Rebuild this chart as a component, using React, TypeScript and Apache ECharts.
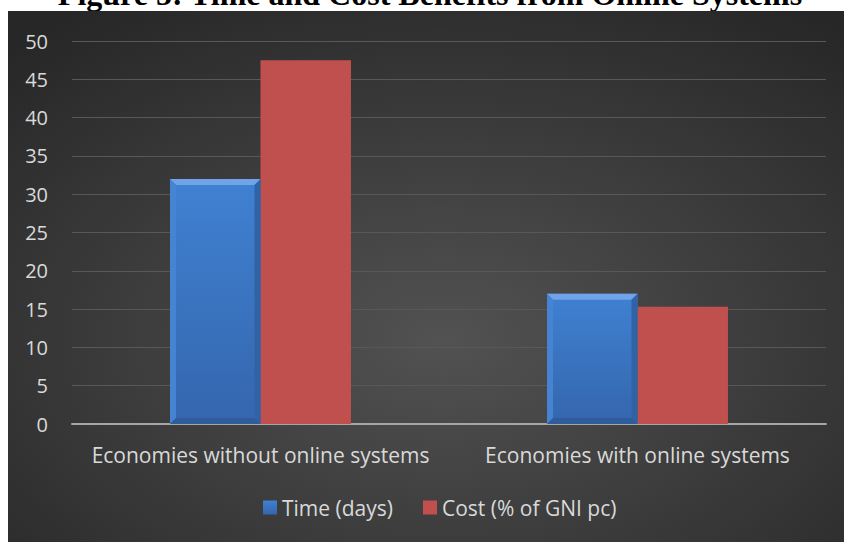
import React, { useEffect, useRef } from "react";
import * as echarts from "echarts";

const titleText = "Figure 5: Time and Cost Benefits from Online Systems";
const categories = ["Economies without online systems", "Economies with online systems"];
const timeDays = [32, 17];
const costPct = [47.5, 15.3];
const seriesNames = ["Time (days)", "Cost (% of GNI pc)"];
const yTicks = { min: 0, max: 50, interval: 5 };

const FONT = "'Open Sans', 'Noto Sans', sans-serif";

export default function App() {
  const ref = useRef<HTMLDivElement>(null);
  useEffect(() => {
    if (!ref.current) return;
    const chart = echarts.init(ref.current, undefined, { renderer: "svg" });
    const bevel = 6;
    chart.setOption({
      animation: false,
      graphic: [
        {
          type: "text",
          x: 430,
          y: -22,
          z: -20,
          style: {
            text: titleText,
            textAlign: "center",
            textVerticalAlign: "top",
            font: "bold 32px 'Liberation Serif', 'Times New Roman', serif",
            fill: "#000",
          },
        },
        {
          type: "rect",
          shape: { x: 8, y: 11, width: 836, height: 531 },
          z: -10,
          silent: true,
          style: {
            fill: new echarts.graphic.RadialGradient(0.52, 0.62, 0.75, [
              { offset: 0, color: "#525252" },
              { offset: 1, color: "#272727" },
            ]),
          },
        },
      ],
      grid: { left: 72, right: 18, top: 41, bottom: 118, containLabel: false },
      legend: {
        data: seriesNames,
        bottom: 19,
        left: 258,
        itemWidth: 14,
        itemHeight: 14,
        itemGap: 30,
        icon: "rect",
        textStyle: { color: "#d9d9d9", fontSize: 21, fontFamily: FONT },
      },
      xAxis: {
        type: "category",
        data: categories,
        axisLine: { lineStyle: { color: "#a6a6a6", width: 2 } },
        axisTick: { show: false },
        axisLabel: { color: "#d9d9d9", fontSize: 21, fontFamily: FONT, margin: 20, interval: 0 },
      },
      yAxis: {
        type: "value",
        min: yTicks.min,
        max: yTicks.max,
        interval: yTicks.interval,
        axisLine: { show: false },
        axisTick: { show: false },
        splitLine: { lineStyle: { color: "#585858", width: 1 } },
        axisLabel: { color: "#d9d9d9", fontSize: 20, fontFamily: FONT, margin: 24 },
      },
      series: [
        {
          name: seriesNames[0],
          type: "bar",
          data: timeDays,
          barGap: "0%",
          barCategoryGap: "52%",
          itemStyle: {
            color: new echarts.graphic.LinearGradient(0, 0, 0, 1, [
              { offset: 0, color: "#4081d2" },
              { offset: 1, color: "#3466ad" },
            ]),
          },
        },
        {
          name: seriesNames[1],
          type: "bar",
          data: costPct,
          itemStyle: { color: "#c0504d" },
        },
        {
          name: "bevel",
          type: "custom",
          silent: true,
          z: 3,
          data: timeDays.map((v, i) => [i, v]),
          encode: { x: 0, y: 1 },
          renderItem: (params: any, api: any) => {
            const idx = api.value(0);
            const val = api.value(1);
            const top = api.coord([idx, val]);
            const base = api.coord([idx, 0]);
            const band = api.size([1, 0])[0];
            const bw = (band * 0.48) / 2;
            const x0 = top[0] - bw;
            const x1 = top[0];
            const y0 = top[1];
            const y1 = base[1];
            const b = bevel;
            return {
              type: "group",
              children: [
                {
                  type: "polygon",
                  shape: { points: [[x0, y0], [x1, y0], [x1 - b, y0 + b], [x0 + b, y0 + b]] },
                  style: { fill: "#6fa4e8" },
                },
                {
                  type: "polygon",
                  shape: { points: [[x0, y0], [x0 + b, y0 + b], [x0 + b, y1 - b], [x0, y1]] },
                  style: { fill: "#4683d3" },
                },
                {
                  type: "polygon",
                  shape: { points: [[x1, y0], [x1, y1], [x1 - b, y1 - b], [x1 - b, y0 + b]] },
                  style: { fill: "#3063a6" },
                },
                {
                  type: "polygon",
                  shape: { points: [[x0, y1], [x0 + b, y1 - b], [x1 - b, y1 - b], [x1, y1]] },
                  style: { fill: "#2f5d9c" },
                },
              ],
            };
          },
        },
      ],
    });
    return () => chart.dispose();
  }, []);
  return (
    <div
      ref={ref}
      style={{ position: "absolute", left: 0, top: 0, width: 844, height: 542 }}
    />
  );
}
